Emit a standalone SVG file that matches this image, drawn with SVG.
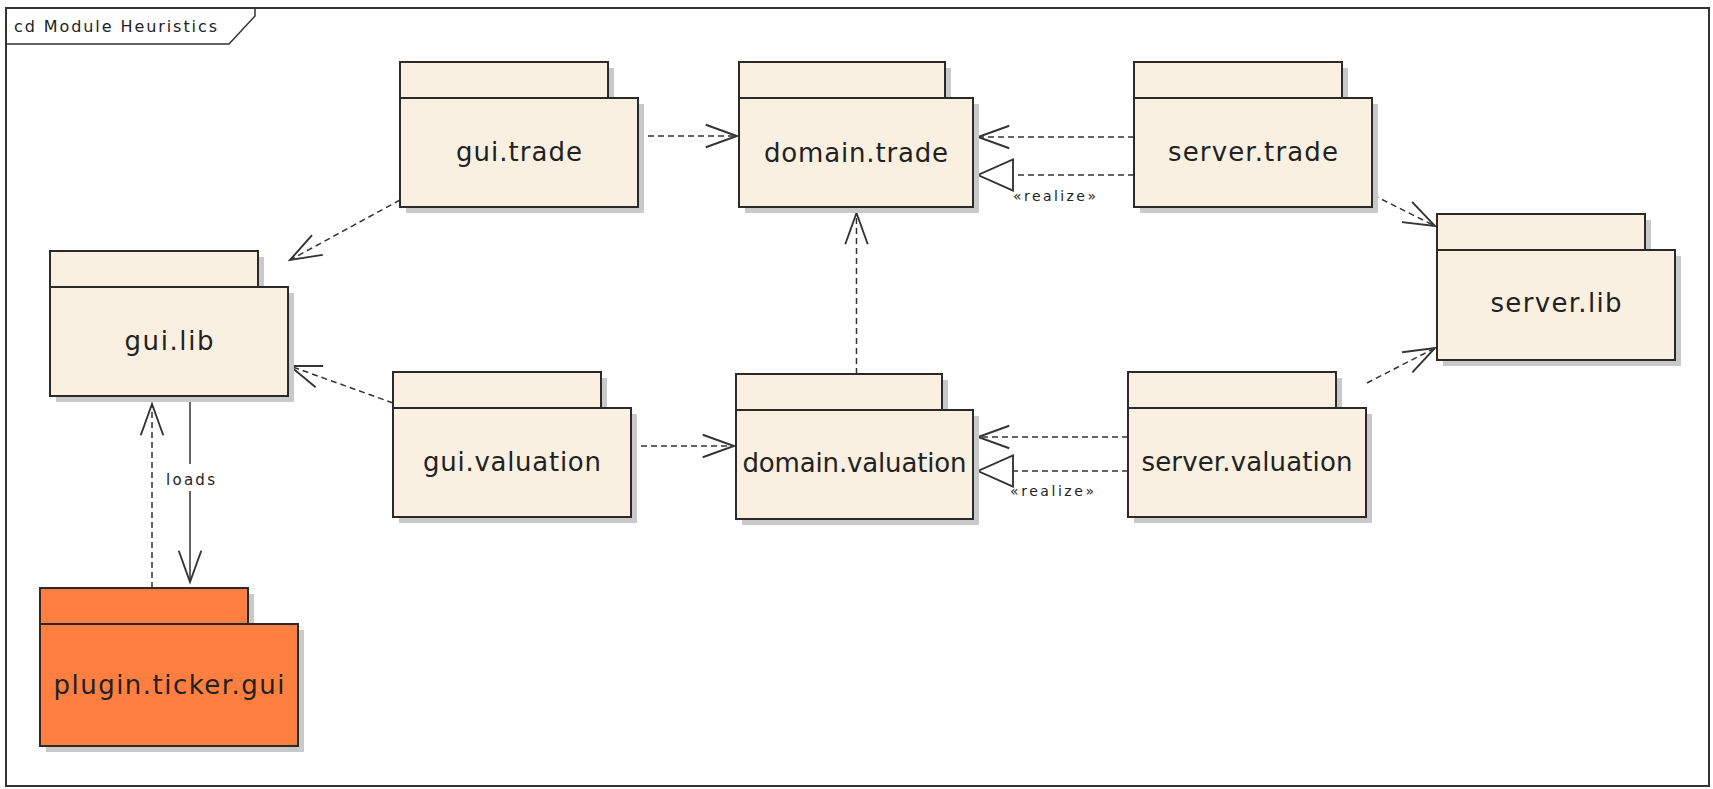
<svg xmlns="http://www.w3.org/2000/svg" width="1713" height="789" viewBox="0 0 1713 789">
<style>
.sh{fill:#c9c9c9}
.pk{fill:#faf0e1;stroke:#2a2a2a;stroke-width:2}
.pko{fill:#fe7f3f;stroke:#2a2a2a;stroke-width:2}
.lbl{font-family:"DejaVu Sans","Liberation Sans",sans-serif;font-size:26px;fill:#222;text-anchor:middle}
.sm{font-family:"DejaVu Sans","Liberation Sans",sans-serif;font-size:14px;fill:#222}
.dash{fill:none;stroke:#333;stroke-width:1.5;stroke-dasharray:6 4}
.solid{fill:none;stroke:#333;stroke-width:1.5}
</style>
<defs>
<marker id="open" markerUnits="userSpaceOnUse" orient="auto" refX="0" refY="0" markerWidth="40" markerHeight="40" viewBox="-30 -15 32 30" overflow="visible">
<path d="M -25,-9 L 0,0 L -25,9" fill="none" stroke="#333" stroke-width="1.5" stroke-dasharray="none"/>
</marker>
<marker id="tri" markerUnits="userSpaceOnUse" orient="auto" refX="0" refY="0" markerWidth="40" markerHeight="40" viewBox="-30 -15 32 30" overflow="visible">
<path d="M -28,-12.5 L 0,0 L -28,12.5 Z" fill="#fff" stroke="#333" stroke-width="1.5" stroke-dasharray="none"/>
</marker>
</defs>
<rect x="0" y="0" width="1713" height="789" fill="#fff"/>
<g id="frame">
<rect x="6" y="8" width="1703" height="778" fill="none" stroke="#333" stroke-width="2"/>
<path d="M 6,44 L 229,44 L 255,16 L 255,8" fill="none" stroke="#333" stroke-width="1.5"/>
<text x="14" y="32" font-family="DejaVu Sans, Liberation Sans, sans-serif" font-size="16" fill="#222" textLength="203" lengthAdjust="spacing">cd Module Heuristics</text>
</g>
<g id="connectors">
<path class="dash" d="M 638,136 L 737,136" marker-end="url(#open)"/>
<path class="dash" d="M 1134,137 L 978,137" marker-end="url(#open)"/>
<path class="dash" d="M 1134,175 L 978,175" marker-end="url(#tri)"/>
<text class="sm" x="1013" y="201" textLength="83" lengthAdjust="spacing">«realize»</text>
<path class="dash" d="M 856.5,374 L 856.5,213" marker-end="url(#open)"/>
<path class="dash" d="M 631,446 L 734,446" marker-end="url(#open)"/>
<path class="dash" d="M 1128,437 L 978,437" marker-end="url(#open)"/>
<path class="dash" d="M 1128,471 L 978,471" marker-end="url(#tri)"/>
<text class="sm" x="1010" y="496" textLength="84" lengthAdjust="spacing">«realize»</text>
<path class="dash" d="M 400,200 L 290,260" marker-end="url(#open)"/>
<path class="dash" d="M 393,403 L 290,366" marker-end="url(#open)"/>
<path class="dash" d="M 1373,195 L 1435,226" marker-end="url(#open)"/>
<path class="dash" d="M 1367,383 L 1435,348" marker-end="url(#open)"/>
<path class="dash" d="M 152,588 L 152,404" marker-end="url(#open)"/>
<path class="solid" d="M 190,397 L 190,582" marker-end="url(#open)"/>
<rect x="164" y="464" width="53" height="27" fill="#fff"/>
<text x="166" y="485" font-family="DejaVu Sans, Liberation Sans, sans-serif" font-size="15" fill="#222" textLength="49" lengthAdjust="spacing">loads</text>
</g>
<g id="gui.trade">
<rect class="sh" x="406" y="68" width="208" height="36"/><rect class="sh" x="406" y="104" width="238" height="109"/>
<rect class="pk" x="400" y="62" width="208" height="36"/><rect class="pk" x="400" y="98" width="238" height="109"/>
<text class="lbl" x="519" y="161" textLength="126" lengthAdjust="spacing">gui.trade</text>
</g>
<g id="domain.trade">
<rect class="sh" x="745" y="68" width="206" height="36"/><rect class="sh" x="745" y="104" width="234" height="109"/>
<rect class="pk" x="739" y="62" width="206" height="36"/><rect class="pk" x="739" y="98" width="234" height="109"/>
<text class="lbl" x="856" y="162" textLength="184" lengthAdjust="spacing">domain.trade</text>
</g>
<g id="server.trade">
<rect class="sh" x="1140" y="68" width="208" height="36"/><rect class="sh" x="1140" y="104" width="238" height="109"/>
<rect class="pk" x="1134" y="62" width="208" height="36"/><rect class="pk" x="1134" y="98" width="238" height="109"/>
<text class="lbl" x="1253" y="161" textLength="170" lengthAdjust="spacing">server.trade</text>
</g>
<g id="gui.lib">
<rect class="sh" x="56" y="257" width="208" height="36"/><rect class="sh" x="56" y="293" width="238" height="109"/>
<rect class="pk" x="50" y="251" width="208" height="36"/><rect class="pk" x="50" y="287" width="238" height="109"/>
<text class="lbl" x="169" y="350" textLength="89" lengthAdjust="spacing">gui.lib</text>
</g>
<g id="server.lib">
<rect class="sh" x="1443" y="220" width="208" height="36"/><rect class="sh" x="1443" y="256" width="238" height="110"/>
<rect class="pk" x="1437" y="214" width="208" height="36"/><rect class="pk" x="1437" y="250" width="238" height="110"/>
<text class="lbl" x="1556" y="312" textLength="131" lengthAdjust="spacing">server.lib</text>
</g>
<g id="gui.valuation">
<rect class="sh" x="399" y="378" width="208" height="36"/><rect class="sh" x="399" y="414" width="238" height="109"/>
<rect class="pk" x="393" y="372" width="208" height="36"/><rect class="pk" x="393" y="408" width="238" height="109"/>
<text class="lbl" x="512" y="471" textLength="178" lengthAdjust="spacing">gui.valuation</text>
</g>
<g id="domain.valuation">
<rect class="sh" x="742" y="380" width="206" height="36"/><rect class="sh" x="742" y="416" width="237" height="109"/>
<rect class="pk" x="736" y="374" width="206" height="36"/><rect class="pk" x="736" y="410" width="237" height="109"/>
<text class="lbl" x="854.5" y="472" textLength="224" lengthAdjust="spacing">domain.valuation</text>
</g>
<g id="server.valuation">
<rect class="sh" x="1134" y="378" width="208" height="36"/><rect class="sh" x="1134" y="414" width="238" height="109"/>
<rect class="pk" x="1128" y="372" width="208" height="36"/><rect class="pk" x="1128" y="408" width="238" height="109"/>
<text class="lbl" x="1247" y="471" textLength="211" lengthAdjust="spacing">server.valuation</text>
</g>
<g id="plugin.ticker.gui">
<rect class="sh" x="46" y="594" width="208" height="36"/><rect class="sh" x="46" y="630" width="258" height="122"/>
<rect class="pko" x="40" y="588" width="208" height="36"/><rect class="pko" x="40" y="624" width="258" height="122"/>
<text class="lbl" x="169" y="694" textLength="231" lengthAdjust="spacing">plugin.ticker.gui</text>
</g>
</svg>
